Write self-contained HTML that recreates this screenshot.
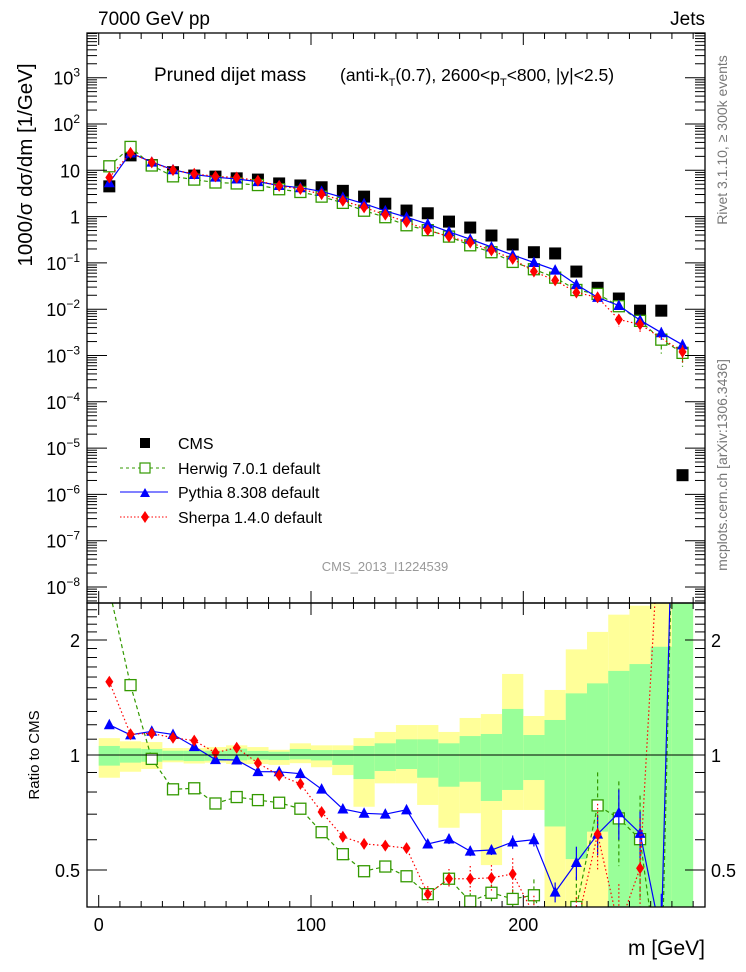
<!DOCTYPE html>
<html><head><meta charset="utf-8"><style>
html,body{margin:0;padding:0;background:#fff;overflow:hidden;width:746px;height:972px;}
svg{display:block;font-family:"Liberation Sans",Arial,sans-serif;}
</style></head><body>
<svg id="chart" width="746" height="972" viewBox="0 0 746 972" xmlns="http://www.w3.org/2000/svg">
<g id="bands"></g>
<g id="grid"></g>
<g id="series"></g>
<g id="axes"></g>
<text x="98" y="25" font-size="19">7000 GeV pp</text>
<text x="705" y="25" font-size="19" text-anchor="end">Jets</text>
<text x="154" y="81" font-size="19">Pruned dijet mass</text>
<text x="340" y="81" font-size="17.5">(anti-k<tspan font-size="11" dy="5">T</tspan><tspan dy="-5">(0.7), 2600&lt;p</tspan><tspan font-size="11" dy="5">T</tspan><tspan dy="-5">&lt;800, |y|&lt;2.5)</tspan></text>
<text x="385" y="571" font-size="13" fill="#999" text-anchor="middle">CMS_2013_I1224539</text>
<text transform="translate(32,165) rotate(-90)" font-size="20.5" text-anchor="middle">1000/σ dσ/dm [1/GeV]</text>
<text transform="translate(39,755) rotate(-90)" font-size="15" text-anchor="middle">Ratio to CMS</text>
<text transform="translate(727,140) rotate(-90)" font-size="14" fill="#777" text-anchor="middle">Rivet 3.1.10, ≥ 300k events</text>
<text transform="translate(727,465) rotate(-90)" font-size="14" fill="#777" text-anchor="middle">mcplots.cern.ch [arXiv:1306.3436]</text>
<text x="705" y="955" font-size="21" text-anchor="end">m [GeV]</text>
<g id="legend">
<rect x="140" y="438" width="10" height="10" fill="#000"/>
<text x="178" y="449" font-size="16">CMS</text>
<line x1="120" y1="468" x2="168" y2="468" stroke="#339900" stroke-dasharray="3,3"/>
<rect x="140" y="463" width="10" height="10" fill="#fff" stroke="#339900" stroke-width="1.2"/>
<text x="178" y="474" font-size="16">Herwig 7.0.1 default</text>
<line x1="120" y1="492" x2="168" y2="492" stroke="#0000ff"/>
<path d="M140,497 L150,497 L145,488 Z" fill="#0000ff"/>
<text x="178" y="498" font-size="16">Pythia 8.308 default</text>
<line x1="120" y1="517" x2="168" y2="517" stroke="#ff0000" stroke-dasharray="1.5,2"/>
<path d="M145,511 L149,517 L145,523 L141,517 Z" fill="#ff0000"/>
<text x="178" y="523" font-size="16">Sherpa 1.4.0 default</text>
</g>
</svg>
<script>
const binCenters = [5,15,25,35,45,55,65,75,85,95,105,115,125,135,145,155,165,175,185,195,205,215,225,235,245,255,265,275];
const cmsValues = [4.5,21,13,9.1,7.7,7.3,6.7,6.3,5.2,4.7,4.3,3.6,2.7,1.9,1.35,1.18,0.78,0.58,0.39,0.25,0.17,0.16,0.065,0.029,0.017,0.0093,0.0093,0.0000026];
const herwigValues = [12.2,32,12.7,7.4,6.3,5.45,5.2,4.8,3.9,3.4,2.7,1.98,1.34,0.97,0.65,0.51,0.37,0.24,0.17,0.105,0.073,0.048,0.026,0.0214,0.0116,0.0056,0.0022,0.00114];
const pythiaValues = [5.4,23.7,15,10.3,8.1,7.1,6.5,5.7,4.7,4.2,3.5,2.6,1.9,1.33,0.97,0.69,0.47,0.325,0.22,0.148,0.102,0.070,0.034,0.018,0.012,0.0058,0.0031,0.0017];
const sherpaValues = [7.0,23.8,14.8,10.1,8.4,7.4,7.0,6.0,4.6,3.95,3.05,2.2,1.58,1.1,0.77,0.51,0.37,0.275,0.186,0.122,0.065,0.042,0.023,0.018,0.006,0.0047,null,0.0012];
const herwigRelErr = [0,0,0,0,0,0,0,0,0,0,0,0,0,0,0.02,0.03,0.04,0.05,0.05,0.06,0.1,0.15,0.2,0.22,0.25,0.3,0.5,0.5];
const pythiaRelErr = [0,0,0,0,0,0,0,0,0,0,0,0,0,0,0.02,0.02,0.03,0.03,0.03,0.04,0.04,0.06,0.1,0.12,0.15,0.14,0.3,0.3];
const sherpaRelErr = [0,0,0,0,0,0,0,0,0,0,0,0,0,0,0.02,0.05,0.06,0.08,0.08,0.1,0.12,0.15,0.2,0.2,0.3,0.35,0.4,0.4];
const binEdges = [0,10,20,30,40,50,60,70,80,90,100,110,120,130,140,150,160,170,180,190,200,210,220,230,240,250,260,270,280];
const greenHi = [1.056,1.041,1.037,1.026,1.026,1.026,1.039,1.025,1.02,1.037,1.03,1.03,1.056,1.073,1.099,1.099,1.073,1.121,1.135,1.32,1.128,1.235,1.45,1.54,1.66,1.73,1.92,3];
const greenLo = [0.938,0.955,0.96,0.968,0.964,0.966,0.968,0.972,0.97,0.974,0.968,0.942,0.865,0.908,0.919,0.872,0.826,0.851,0.758,0.81,0.86,0.65,0.534,0.63,0.3,0.3,0.3,0.3];
const yellowHi = [1.107,1.086,1.081,1.043,1.043,1.049,1.06,1.049,1.032,1.073,1.06,1.06,1.107,1.149,1.198,1.198,1.149,1.25,1.28,1.63,1.265,1.48,1.89,2.10,2.33,2.46,3,3];
const yellowLo = [0.872,0.904,0.919,0.957,0.95,0.955,0.947,0.947,0.942,0.952,0.929,0.886,0.732,0.843,0.843,0.74,0.645,0.704,0.515,0.718,0.718,0.3,0.3,0.3,0.3,0.3,0.3,0.3];
const xTickLabels = [0,100,200];
const mainExpTicks = [3,2,1,0,-1,-2,-3,-4,-5,-6,-7,-8];
const ratioTickLabels = [0.5,1,2];

const NS = "http://www.w3.org/2000/svg";
const L = 87, R = 705, T = 33, MB = 603, B = 907;
const X = m => 98.7 + 2.123 * m;
const Ym = v => 216.6 - 46.3 * Math.log10(v);
const Yr = r => 755 - 382 * Math.log10(r);
function mk(tag, attrs, parent) {
  const e = document.createElementNS(NS, tag);
  for (const k in attrs) e.setAttribute(k, attrs[k]);
  parent.appendChild(e);
  return e;
}
const bands = document.getElementById('bands');
const series = document.getElementById('series');
const axes = document.getElementById('axes');

const defs = mk('defs', {}, document.getElementById('chart'));
const c1 = mk('clipPath', {id: 'clipMain'}, defs); mk('rect', {x: L, y: T, width: R - L, height: MB - T}, c1);
const c2 = mk('clipPath', {id: 'clipRatio'}, defs); mk('rect', {x: L, y: MB, width: R - L, height: B - MB}, c2);
bands.setAttribute('clip-path', 'url(#clipRatio)');

for (let i = 0; i < greenHi.length; i++) {
  const x0 = X(binEdges[i]), x1 = X(binEdges[i + 1]);
  const y = mk('rect', {x: x0, y: Yr(yellowHi[i]), width: x1 - x0, height: Yr(yellowLo[i]) - Yr(yellowHi[i]), fill: '#ffff99'}, bands);
  
  
  const g = mk('rect', {x: x0, y: Yr(greenHi[i]), width: x1 - x0, height: Yr(greenLo[i]) - Yr(greenHi[i]), fill: '#99ff99'}, bands);
  
  
}
const one = mk('line', {x1: L, x2: R, y1: Yr(1), y2: Yr(1), stroke: '#000', 'stroke-width': 1}, axes);



const mainG = mk('g', {'clip-path': 'url(#clipMain)'}, series);
const ratioG = mk('g', {'clip-path': 'url(#clipRatio)'}, series);

function drawMarker(kind, cx, cy, color, parent, name) {
  let e;
  if (kind === 'square') e = mk('rect', {x: cx - 5.5, y: cy - 5.5, width: 11, height: 11, fill: '#fff', stroke: color, 'stroke-width': 1.3}, parent);
  else if (kind === 'tri') e = mk('path', {d: `M${cx - 5.5},${cy + 4.5} L${cx + 5.5},${cy + 4.5} L${cx},${cy - 6} Z`, fill: color}, parent);
  else e = mk('path', {d: `M${cx},${cy - 6} L${cx + 4},${cy} L${cx},${cy + 6} L${cx - 4},${cy} Z`, fill: color}, parent);
  
  
}
const mcs = [
  {vals: herwigValues, err: herwigRelErr, color: '#339900', dash: '4,3', kind: 'square', name: 'herwig'},
  {vals: pythiaValues, err: pythiaRelErr, color: '#0000ff', dash: '', kind: 'tri', name: 'pythia'},
  {vals: sherpaValues, err: sherpaRelErr, color: '#ff0000', dash: '1.5,2.5', kind: 'diamond', name: 'sherpa'}
];
binCenters.forEach((m, i) => {
  const r = mk('rect', {x: X(m) - 6, y: Ym(cmsValues[i]) - 6, width: 12, height: 12, fill: '#000'}, mainG);
  
  
});
mcs.forEach(s => {
  let dMain = '', dRatio = '';
  binCenters.forEach((m, i) => {
    const v = s.vals[i];
    if (v == null) return;
    const r = Math.min(Math.max(v / cmsValues[i], 0.05), 50);
    dMain += (dMain ? 'L' : 'M') + X(m).toFixed(1) + ',' + Ym(v).toFixed(1);
    dRatio += (dRatio ? 'L' : 'M') + X(m).toFixed(1) + ',' + Yr(r).toFixed(1);
  });
  const pm = mk('path', {d: dMain, fill: 'none', stroke: s.color, 'stroke-width': 1.2, 'stroke-dasharray': s.dash}, mainG);
  
  
  const pr = mk('path', {d: dRatio, fill: 'none', stroke: s.color, 'stroke-width': 1.2, 'stroke-dasharray': s.dash}, ratioG);
  
  
  binCenters.forEach((m, i) => {
    const v = s.vals[i];
    if (v == null) return;
    const r = v / cmsValues[i];
    const e = s.err[i];
    if (e > 0) {
      const eb = mk('line', {x1: X(m), x2: X(m), y1: Yr(r * (1 + e)), y2: Yr(r * (1 - e)), stroke: s.color, 'stroke-width': 1.2, 'stroke-dasharray': s.dash}, ratioG);
      
      
      const ebm = mk('line', {x1: X(m), x2: X(m), y1: Ym(v * (1 + e)), y2: Ym(v * (1 - e)), stroke: s.color, 'stroke-width': 1.2, 'stroke-dasharray': s.dash}, mainG);
      
      
    }
    drawMarker(s.kind, X(m), Ym(v), s.color, mainG, s.name + '-point');
    if (r < 20) drawMarker(s.kind, X(m), Yr(r), s.color, ratioG, s.name + '-ratio-point');
  });
});

[[T, MB], [MB, B]].forEach(([t, b], k) => {
  const f = mk('rect', {x: L, y: t, width: R - L, height: b - t, fill: 'none', stroke: '#000', 'stroke-width': 1.3}, axes);
  
  
});
for (let m = 0; m <= 280; m += 10) {
  const len = m % 100 === 0 ? 12 : 6;
  [[T, 1], [MB, -1], [MB, 1], [B, -1]].forEach(([y0, d]) => mk('line', {x1: X(m), x2: X(m), y1: y0, y2: y0 + d * len, stroke: '#000'}, axes));
}
xTickLabels.forEach(m => {
  const t = mk('text', {x: X(m), y: 931, 'font-size': 18, 'text-anchor': 'middle'}, axes);
  t.textContent = m;
  
  
});
for (let p = -9; p <= 4; p++) {
  for (let k = 1; k <= 9; k++) {
    const v = k * Math.pow(10, p), y = Ym(v);
    if (y < T || y > MB) continue;
    const len = k === 1 ? 20 : 10;
    mk('line', {x1: L, x2: L + len, y1: y, y2: y, stroke: '#000'}, axes);
    mk('line', {x1: R, x2: R - len, y1: y, y2: y, stroke: '#000'}, axes);
  }
}
mainExpTicks.forEach(p => {
  const y = Ym(Math.pow(10, p));
  const t = mk('text', {x: 80, y: y + 7, 'font-size': 18, 'text-anchor': 'end'}, axes);
  
  
  if (p === 0) t.textContent = '1';
  else if (p === 1) t.textContent = '10';
  else {
    const s1 = mk('tspan', {}, t); s1.textContent = '10';
    const s2 = mk('tspan', {dy: -8, 'font-size': 12}, t); s2.textContent = String(p).replace('-', '−');
  }
});
for (let k = 4; k <= 25; k++) {
  const r = k / 10; const y = Yr(r);
  if (y < MB || y > B) continue;
  const major = (r === 0.5 || r === 1 || r === 2);
  const len = major ? 20 : 10;
  mk('line', {x1: L, x2: L + len, y1: y, y2: y, stroke: '#000'}, axes);
  mk('line', {x1: R, x2: R - len, y1: y, y2: y, stroke: '#000'}, axes);
}
ratioTickLabels.forEach(r => {
  const y = Yr(r) + 7;
  const a = mk('text', {x: 80, y: y, 'font-size': 18, 'text-anchor': 'end'}, axes); a.textContent = r;
  
  
  const b = mk('text', {x: 711, y: y, 'font-size': 18}, axes); b.textContent = r;
  
  
});
</script>
</body></html>
